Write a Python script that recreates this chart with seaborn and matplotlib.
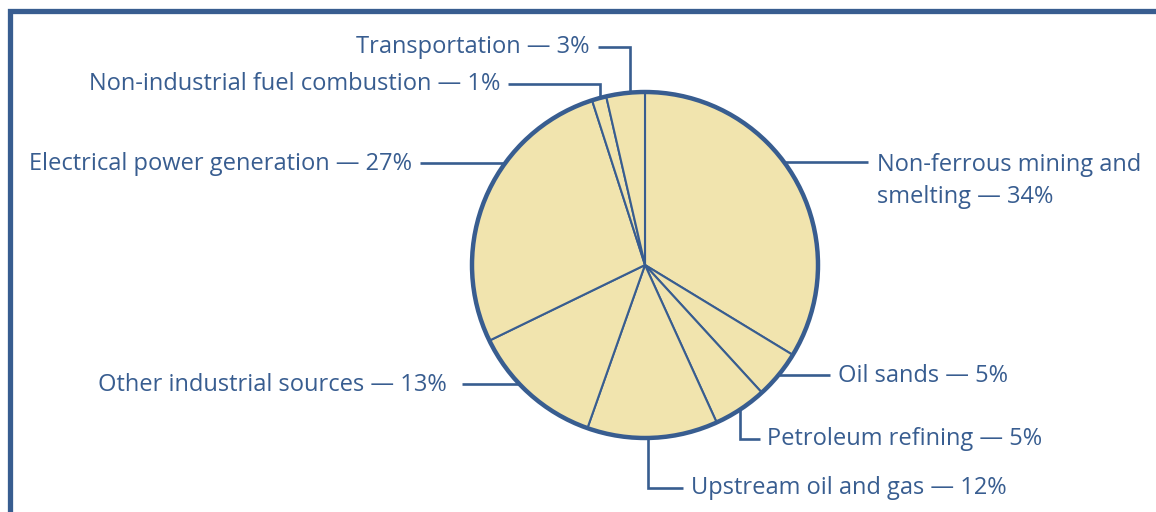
import numpy as np
import matplotlib.pyplot as plt
import seaborn as sns

sns.set_theme(style="white")
plt.rcParams['font.family'] = ['Open Sans', 'DejaVu Sans']

# slices, clockwise from 12 o'clock
sources = ["Non-ferrous mining and\nsmelting", "Oil sands", "Petroleum refining",
           "Upstream oil and gas", "Other industrial sources",
           "Electrical power generation", "Non-industrial fuel combustion",
           "Transportation"]
# percentages as printed in the labels
shares = [34, 5, 5, 12, 13, 27, 1, 3]
# slice sizes as drawn in the chart (unrounded)
slice_sizes = [33.7, 4.5, 5.0, 12.2, 12.4, 27.25, 1.35, 3.6]

BLUE = "#385d90"
FILL = "#f1e4ae"
W, H = 1156, 512

fig = plt.figure(figsize=(W / 100, H / 100), dpi=100)
ax = fig.add_axes([0, 0, 1, 1])

def Y(py):
    # pixel row from top -> data y
    return H - py

cx, cy, R = 645, 265, 173

ax.pie(slice_sizes, center=(cx, Y(cy)), radius=R, startangle=90, counterclock=False,
       colors=[FILL] * len(slice_sizes),
       wedgeprops=dict(edgecolor=BLUE, linewidth=1.5), frame=True)
ax.add_patch(plt.Circle((cx, Y(cy)), R, fill=False, edgecolor=BLUE, lw=3.2, zorder=5))
ax.set_xlim(0, W)
ax.set_ylim(0, H)
ax.set_aspect("equal")
ax.axis("off")

# frame (only top and left visible)
ax.add_patch(plt.Rectangle((9.5, -50), W + 50, Y(10.5) + 50, fill=False,
                           edgecolor=BLUE, lw=3.8, clip_on=False))

def edge_x(py, side):
    return cx + side * np.sqrt(R ** 2 - (py - cy) ** 2)

def edge_y(px, side):
    return cy + side * np.sqrt(R ** 2 - (px - cx) ** 2)

# label layout: text x, text row, alignment, leader kind
layout = {
    "Transportation": (590, 47, "right", ("v", 598, 630, -1)),
    "Non-industrial fuel combustion": (500, 84, "right", ("v", 508, 600, -1)),
    "Electrical power generation": (412, 164, "right", ("h", 420, -1)),
    "Non-ferrous mining and\nsmelting": (877, 181, "left", ("h", 868, 1, 162)),
    "Oil sands": (838, 376, "left", ("h", 830, 1)),
    "Petroleum refining": (767, 439, "left", ("v", 760, 740, 1)),
    "Upstream oil and gas": (691, 488, "left", ("v", 683, 648, 1)),
    "Other industrial sources": (447, 385, "right", ("h", 462, -1)),
}

lw_lead = 1.9
for name, val in zip(sources, shares):
    tx, ty, ha, lead = layout[name]
    ax.text(tx, Y(ty), f"{name} — {val}%", ha=ha, va="center", color=BLUE,
            fontsize=17, linespacing=1.45)
    if lead[0] == "h":
        ly = lead[3] if len(lead) > 3 else ty - 1
        x0 = lead[1]
        x1 = edge_x(ly, lead[2])
        ax.plot([x0, x1], [Y(ly), Y(ly)], color=BLUE, lw=lw_lead, solid_capstyle="butt")
    else:
        x0, xe, side = lead[1], lead[2], lead[3]
        ye = edge_y(xe, side)
        ax.plot([x0, xe, xe], [Y(ty), Y(ty), Y(ye)], color=BLUE, lw=lw_lead,
                solid_capstyle="butt", solid_joinstyle="miter")

fig.savefig("out.png", dpi=100)
